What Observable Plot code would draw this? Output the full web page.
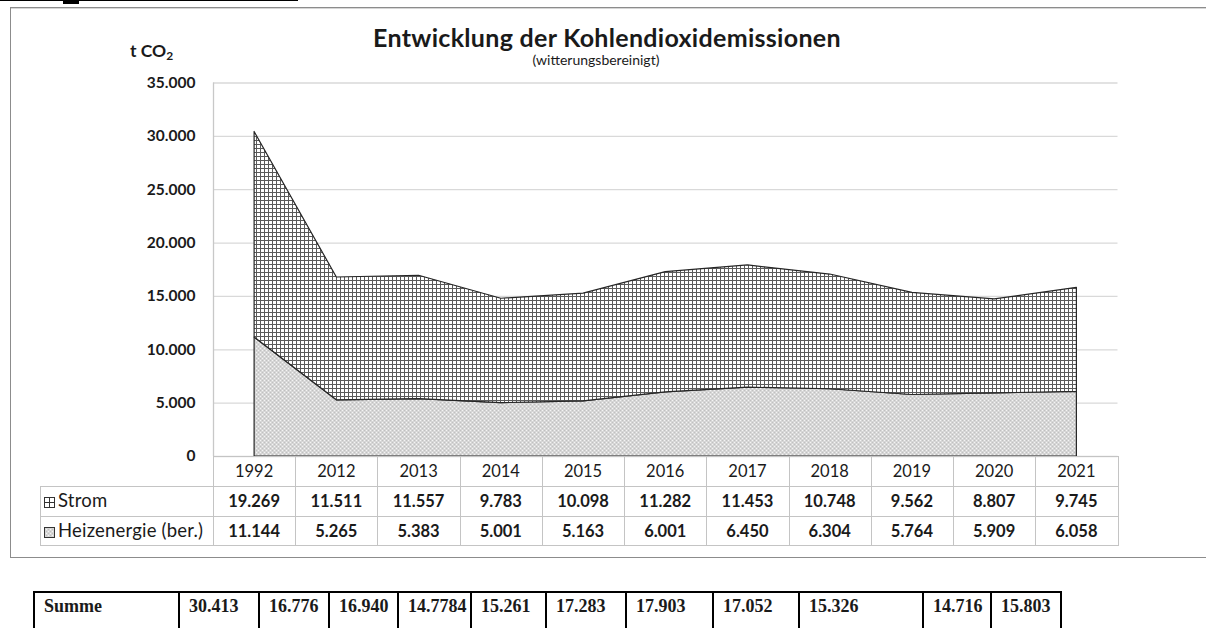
<!DOCTYPE html>
<html><head><meta charset="utf-8">
<script src="https://cdn.jsdelivr.net/npm/d3@7"></script>
<script src="https://cdn.jsdelivr.net/npm/@observablehq/plot@0.6"></script>
<style>
body{margin:0;background:#fff;font-family:Lato,"Open Sans",sans-serif;color:#1a1a1a;}
#wrap{position:relative;width:1206px;height:628px;overflow:hidden;background:#fff;}
.abs{position:absolute;}
.hl{position:absolute;height:1px;background:#c4c4c4;}
.vl{position:absolute;width:1px;background:#c4c4c4;}
.cell{position:absolute;font-size:16.5px;line-height:18px;text-align:center;white-space:nowrap;}
#summe{position:absolute;border-collapse:collapse;table-layout:fixed;font-family:"Liberation Serif","Times New Roman",serif;font-weight:bold;font-size:18px;}
#summe td{border:2px solid #000;padding:3px 0 18px 9px;vertical-align:top;text-align:left;white-space:nowrap;overflow:hidden;}
</style></head><body><div id="wrap">
<div class="abs" style="left:0;top:0;width:298px;height:1px;background:#000"></div>
<div class="abs" style="left:63px;top:0;width:16px;height:4px;background:#000"></div>
<div class="abs" style="left:10px;top:7px;width:1210px;height:549px;border:1px solid #8c8c8c;box-shadow:inset 0 1px 0 #d6d6d6"></div>
<div class="abs" style="left:0;width:1214px;top:22px;text-align:center;font-weight:bold;font-size:25px;letter-spacing:0.3px;">Entwicklung der Kohlendioxidemissionen</div>
<div class="abs" style="left:0;width:1192px;top:51px;text-align:center;font-size:14px;">(witterungsbereinigt)</div>
<div class="abs" style="left:130px;top:40px;font-weight:bold;font-size:17.5px;">t CO<sub style="font-size:12px;vertical-align:-3px">2</sub></div>
</div>
<script>
// ---- data ----
const years = ["1992","2012","2013","2014","2015","2016","2017","2018","2019","2020","2021"];
const strom = [19269, 11511, 11557, 9783, 10098, 11282, 11453, 10748, 9562, 8807, 9745];
const heiz  = [11144, 5265, 5383, 5001, 5163, 6001, 6450, 6304, 5764, 5909, 6058];
const summe = ["30.413","16.776","16.940","14.7784","15.261","17.283","17.903","17.052","15.326","14.716","15.803"];
const seriesNames = ["Strom", "Heizenergie (ber.)"];
const yTicks = [0, 5000, 10000, 15000, 20000, 25000, 30000, 35000];

const de = d3.formatLocale({decimal: ",", thousands: ".", grouping: [3], currency: ["", " €"]});
const fmt = de.format(",");

const rows = years.map((y, i) => ({i, year: y, heiz: heiz[i], top: heiz[i] + strom[i]}));

const wrap = document.getElementById("wrap");

const plot = Plot.plot({
  width: 1206, height: 460,
  marginTop: 82.5, marginBottom: 4, marginLeft: 213, marginRight: 88.5,
  x: {type: "linear", domain: [-0.5, years.length - 0.5], axis: null},
  y: {domain: [0, 35000], ticks: 7, tickFormat: fmt, tickSize: 0, tickPadding: 18, label: null},
  style: {fontFamily: "Lato, 'Open Sans', sans-serif", fontSize: "15.5px", fontWeight: "bold", color: "#1a1a1a", background: "transparent", overflow: "visible"},
  marks: [
    Plot.ruleY(yTicks, {stroke: "#d9d9d9", strokeWidth: 1.3}),
    Plot.ruleX([-0.5], {stroke: "#c8c8c8", strokeWidth: 1.3}),
    Plot.areaY(rows, {x: "i", y1: 0, y2: "heiz", fill: "url(#dots)", stroke: "#262626", strokeWidth: 1.2}),
    Plot.areaY(rows, {x: "i", y1: "heiz", y2: "top", fill: "url(#grid)", stroke: "#262626", strokeWidth: 1.2})
  ]
});
plot.style.position = "absolute";
plot.style.left = "0px";
plot.style.top = "0px";

const defs = d3.select(plot).insert("defs", ":first-child");
const pg = defs.append("pattern").attr("id", "grid").attr("width", 4).attr("height", 4).attr("patternUnits", "userSpaceOnUse");
pg.append("rect").attr("width", 4).attr("height", 4).attr("fill", "#ffffff");
pg.append("path").attr("d", "M0 0.5H4M0.5 0V4").attr("stroke", "#5a5a5a").attr("stroke-width", 1);
const pd = defs.append("pattern").attr("id", "dots").attr("width", 4).attr("height", 4).attr("patternUnits", "userSpaceOnUse");
pd.append("rect").attr("width", 4).attr("height", 4).attr("fill", "#d6d6d6");
pd.append("rect").attr("x", 0).attr("y", 0).attr("width", 1).attr("height", 1).attr("fill", "#f4f4f4");
pd.append("rect").attr("x", 2).attr("y", 2).attr("width", 1).attr("height", 1).attr("fill", "#f4f4f4");
pd.append("rect").attr("x", 2).attr("y", 0).attr("width", 1).attr("height", 1).attr("fill", "#c0c0c0");
pd.append("rect").attr("x", 0).attr("y", 2).attr("width", 1).attr("height", 1).attr("fill", "#c0c0c0");
wrap.appendChild(plot);

// ---- data table below the chart (columns from Plot's x scale) ----
const xs = plot.scale("x");
const yS = plot.scale("y");
const b = d3.range(years.length + 1).map(k => xs.apply(k - 0.5));
const yTop = yS.apply(0);
const rowY = [yTop, yTop + 30, yTop + 60, yTop + 89];
const legendLeft = 40;
function add(cls, style, html) {
  const d = document.createElement("div");
  d.className = cls;
  Object.assign(d.style, style);
  if (html != null) d.innerHTML = html;
  wrap.appendChild(d);
  return d;
}
add("hl", {left: b[0] + "px", top: rowY[0] + "px", width: (b[years.length] - b[0] + 1) + "px"});
for (let r = 1; r < 4; r++) add("hl", {left: legendLeft + "px", top: rowY[r] + "px", width: (b[years.length] - legendLeft + 1) + "px"});
b.forEach(x => add("vl", {left: x + "px", top: rowY[0] + "px", height: (rowY[3] - rowY[0]) + "px"}));
add("vl", {left: legendLeft + "px", top: rowY[1] + "px", height: (rowY[3] - rowY[1]) + "px"});
years.forEach((y, i) => {
  const w = b[i + 1] - b[i];
  add("cell", {left: b[i] + "px", width: w + "px", top: (rowY[0] + 6) + "px"}, y);
  add("cell", {left: b[i] + "px", width: w + "px", top: (rowY[1] + 6) + "px", fontWeight: "bold"}, fmt(strom[i]));
  add("cell", {left: b[i] + "px", width: w + "px", top: (rowY[2] + 6) + "px", fontWeight: "bold"}, fmt(heiz[i]));
});
const iconStrom = '<svg width="11" height="11" style="vertical-align:-1px;margin-right:3px"><rect x="0.5" y="0.5" width="10" height="10" fill="#fff" stroke="#333"/><path d="M5.5 0.5V10.5M0.5 5.5H10.5" stroke="#333"/></svg>';
const iconHeiz = '<svg width="11" height="11" style="vertical-align:-1px;margin-right:3px"><rect x="0.5" y="0.5" width="10" height="10" fill="url(#dots)" stroke="#333"/></svg>';
add("cell", {left: (legendLeft + 4) + "px", top: (rowY[1] + 5) + "px", textAlign: "left", fontSize: "18.5px", letterSpacing: "0.2px"}, iconStrom + seriesNames[0]);
add("cell", {left: (legendLeft + 4) + "px", top: (rowY[2] + 5) + "px", textAlign: "left", fontSize: "18.5px", letterSpacing: "0.2px"}, iconHeiz + seriesNames[1]);

// ---- Summe table ----
const sb = [33, 178, 258, 328, 397, 470, 545, 625, 712, 798, 922, 990, 1060];
const tbl = document.createElement("table");
tbl.id = "summe";
tbl.style.left = sb[0] + "px";
tbl.style.top = "591px";
tbl.style.width = (sb[sb.length - 1] - sb[0]) + "px";
const cg = document.createElement("colgroup");
["Summe", ...summe].forEach((t, k) => {
  const col = document.createElement("col");
  col.style.width = (sb[k + 1] - sb[k]) + "px";
  cg.appendChild(col);
});
tbl.appendChild(cg);
const tr = document.createElement("tr");
["Summe", ...summe].forEach(t => {
  const td = document.createElement("td");
  td.textContent = t;
  tr.appendChild(td);
});
tbl.appendChild(tr);
wrap.appendChild(tbl);
</script>
</body></html>
